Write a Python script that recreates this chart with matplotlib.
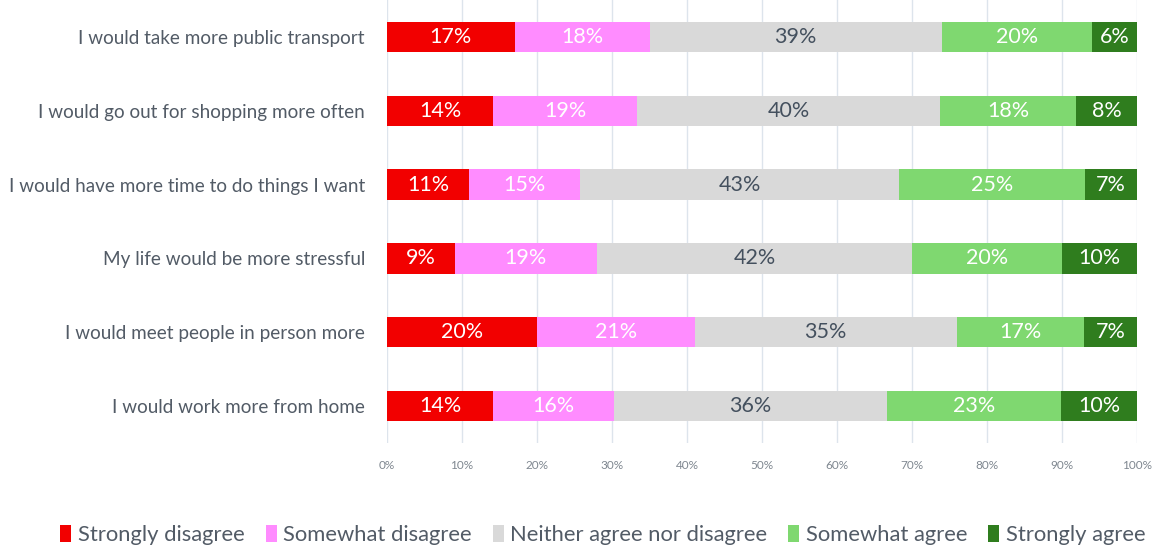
import matplotlib
matplotlib.use("Agg")
import matplotlib.pyplot as plt
import numpy as np

plt.rcParams['font.family'] = ['Lato', 'DejaVu Sans']

statements = [
    "I would take more public transport",
    "I would go out for shopping more often",
    "I would have more time to do things I want",
    "My life would be more stressful",
    "I would meet people in person more",
    "I would work more from home",
]
responses = ["Strongly disagree", "Somewhat disagree", "Neither agree nor disagree",
             "Somewhat agree", "Strongly agree"]

strongly_disagree = [17, 14, 11, 9, 20, 14]
somewhat_disagree = [18, 19, 15, 19, 21, 16]
neither = [39, 40, 43, 42, 35, 36]
somewhat_agree = [20, 18, 25, 20, 17, 23]
strongly_agree = [6, 8, 7, 10, 7, 10]

x_ticks = [0, 10, 20, 30, 40, 50, 60, 70, 80, 90, 100]

colors = ["#f20000", "#ff8cff", "#d9d9d9", "#7fd870", "#2f7d1e"]
label_colors = ["white", "white", "#44505e", "white", "white"]

series = np.array([strongly_disagree, somewhat_disagree, neither,
                   somewhat_agree, strongly_agree], dtype=float)
# 100% stacked: each row scaled to its own total
shares = series / series.sum(axis=0) * 100

fig = plt.figure(figsize=(11.66, 5.49), dpi=100)
ax = fig.add_axes([0.332, 0.193, 0.643, 0.807])

y = np.arange(len(statements))
left = np.zeros(len(statements))
for i, name in enumerate(responses):
    bars = ax.barh(y, shares[i], left=left, height=0.41, color=colors[i],
                   label=name, zorder=3)
    for j, b in enumerate(bars):
        ax.text(left[j] + shares[i][j] / 2, y[j], f"{series[i][j]:.0f}%",
                ha="center", va="center", color=label_colors[i],
                fontsize=15.5, zorder=4)
    left += shares[i]

ax.set_ylim(len(statements) - 0.5, -0.5)
ax.set_xlim(0, 100)
ax.set_yticks(y)
ax.set_yticklabels(statements, fontsize=13.6, color="#525b66")
ax.set_xticks(x_ticks)
ax.set_xticklabels([f"{v}%" for v in x_ticks], fontsize=8.5, color="#7f8790")
ax.tick_params(axis="y", length=0, pad=16)
ax.tick_params(axis="x", length=0, pad=12)
ax.grid(axis="x", color="#dde4ec", linewidth=1.0, zorder=0)
for s in ax.spines.values():
    s.set_visible(False)

fig.legend(loc="center", bbox_to_anchor=(0.517, 0.025), ncol=5, frameon=False,
           fontsize=15.8, handlelength=0.5, handleheight=0.8, handletextpad=0.3,
           columnspacing=0.95, labelcolor="#525b66")

fig.savefig("out.png", dpi=100)
